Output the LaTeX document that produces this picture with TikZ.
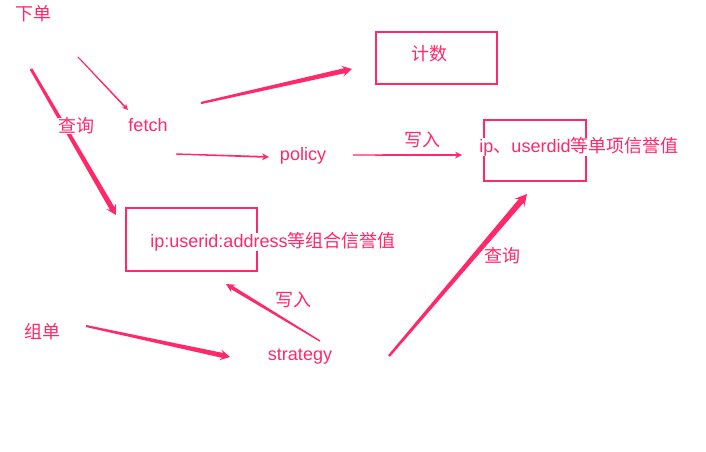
\documentclass[tikz,border=0pt]{standalone}
\usepackage{fontspec}
\setmainfont{Liberation Sans}
\newfontfamily\cjk{Noto Sans CJK SC}
\usetikzlibrary{calc}
\definecolor{pk}{RGB}{255,40,105}
% tapered arrow: #1 start, #2 end, #3 half width at start, #4 half width at end, #5 head length, #6 head half width
\newcommand\tarrow[6]{%
  \coordinate (tA) at (#1);
  \coordinate (tB) at (#2);
  \coordinate (tC) at ($(tB)!#5!(tA)$);
  \coordinate (tH) at ($(tB)!0.75*#5!(tA)$);
  \fill[pk] ($(tA)!#3!90:(tB)$) -- ($(tH)!#4!90:(tB)$) -- ($(tC)!#6!90:(tB)$) -- (tB)
    -- ($(tC)!#6!-90:(tB)$) -- ($(tH)!#4!-90:(tB)$) -- ($(tA)!#3!-90:(tB)$) -- cycle;
}
\tikzset{
  lbl/.style={text=pk, fill=white, font=\fontsize{18}{21}\selectfont, inner sep=0pt, anchor=center},
  box/.style={draw=pk, line width=2.4pt, inner sep=0pt},
}
\begin{document}
\begin{tikzpicture}[x=1pt,y=-1pt]
\useasboundingbox (0,0) rectangle (706,451);
\fill[white] (0,0) rectangle (706,451);
% boxes
\draw[box] (376,32) rectangle (497,84);
\node (cntbox) at (436.5,58) {};
\draw[box] (484,120) rectangle (586,181);
\node (singlebox) at (535,150.5) {};
\draw[box] (126,208) rectangle (257,271);
\node (combobox) at (191.5,239.5) {};
% connector end points
\coordinate (s1) at (31,69);   \coordinate (e1) at (116,215);
\coordinate (s2) at (78,57);   \coordinate (e2) at (128,110);
\coordinate (s3) at (201,103); \coordinate (e3) at (352,69);
\coordinate (s4) at (176,154); \coordinate (e4) at (269,157);
\coordinate (s5) at (353,155); \coordinate (e5) at (462,155);
\coordinate (s6) at (389,356); \coordinate (e6) at (527,194);
\coordinate (s7) at (320,341); \coordinate (e7) at (226,284);
\coordinate (s8) at (86,326);  \coordinate (e8) at (230,357);
% connectors
\tarrow{s1}{e1}{1.4pt}{2.6pt}{10pt}{5.5pt}
\tarrow{s2}{e2}{0.55pt}{0.8pt}{6pt}{3pt}
\tarrow{s3}{e3}{1.1pt}{2.5pt}{10pt}{5.5pt}
\tarrow{s4}{e4}{0.7pt}{0.9pt}{7pt}{3.5pt}
\tarrow{s5}{e5}{0.7pt}{0.9pt}{7pt}{3.5pt}
\tarrow{s6}{e6}{1.2pt}{3pt}{12pt}{6.5pt}
\tarrow{s7}{e7}{0.7pt}{1.8pt}{9pt}{4.5pt}
\tarrow{s8}{e8}{1pt}{2.5pt}{10pt}{5.5pt}
% labels
\node[lbl] (xiadan) at (34,14) {\cjk 下单};
\node[lbl] (chaxun1) at (76,126) {\cjk 查询};
\node[lbl] (fetch) at (148,125) {fetch};
\node[lbl] (policy) at (303,156) {policy};
\node[lbl] (jishu) at (429,54) {\cjk 计数};
\node[lbl] (xieru1) at (422,140) {\cjk 写入};
\node[lbl] (single) at (579,147) {ip{\cjk 、}userdid{\cjk 等单项信誉值}};
\node[lbl] (chaxun2) at (502,256) {\cjk 查询};
\node[lbl] (combo) at (273,242) {ip:userid:address{\cjk 等组合信誉值}};
\node[lbl] (xieru2) at (293,300) {\cjk 写入};
\node[lbl] (zudan) at (42,332) {\cjk 组单};
\node[lbl] (strategy) at (300,357) {strategy};
\end{tikzpicture}
\end{document}
